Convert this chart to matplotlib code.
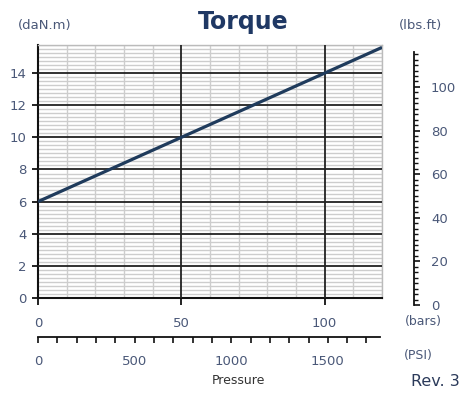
import matplotlib
matplotlib.use('Agg')
import matplotlib.pyplot as plt
from matplotlib.ticker import MultipleLocator, FixedLocator

# data
pressure_bar = [0, 50, 100, 120]
torque_danm = [6.0, 10.0, 14.0, 15.6]
bar_ticks = [0, 50, 100]
danm_ticks = [0, 2, 4, 6, 8, 10, 12, 14]
lbsft_ticks = [0, 20, 40, 60, 80, 100]
psi_ticks = [0, 500, 1000, 1500]

W, H = 468, 394
NAVY = '#1f3b5c'
LABEL = '#4a5878'

def fx(px):
    return px / W

def fy(py):
    return 1 - py / H

fig = plt.figure(figsize=(W / 100, H / 100), dpi=100)
fig.patch.set_facecolor('white')

# main torque plot
ax = fig.add_axes([fx(38), fy(298), fx(382) - fx(38), fy(45) - fy(298)])
ax.plot(pressure_bar, torque_danm, color=NAVY, lw=2.3, solid_capstyle='butt', zorder=5)
ax.set_xlim(0, 120)
ax.set_ylim(0, 15.75)
ax.xaxis.set_major_locator(FixedLocator(bar_ticks))
ax.xaxis.set_minor_locator(MultipleLocator(10))
ax.yaxis.set_major_locator(FixedLocator(danm_ticks))
ax.yaxis.set_minor_locator(MultipleLocator(0.25))
ax.grid(which='minor', color='#cdcdcd', lw=1.0, zorder=1)
for v in bar_ticks[1:]:
    ax.axvline(v, color='#222222', lw=1.3, zorder=3)
for v in danm_ticks[1:]:
    ax.axhline(v, color='#222222', lw=1.3, zorder=3)
ax.set_axisbelow(True)
for s in ['left', 'bottom']:
    ax.spines[s].set_color('#111111')
    ax.spines[s].set_linewidth(1.5)
for s in ['top', 'right']:
    ax.spines[s].set_color('#bbbbbb')
    ax.spines[s].set_linewidth(1.0)
ax.tick_params(which='minor', length=0)
ax.tick_params(axis='y', which='major', length=4, width=1.3, pad=4,
               labelsize=9.5, labelcolor=LABEL, color='#111111')
ax.tick_params(axis='x', which='major', length=5, width=1.3, pad=9,
               labelsize=9.5, labelcolor=LABEL, color='#111111')

# right lbs.ft scale
axr = fig.add_axes([fx(414), fy(305), 0.0005, fy(52) - fy(305)])
axr.set_ylim(0, 116)
axr.set_xticks([])
for s in ['left', 'top', 'bottom']:
    axr.spines[s].set_visible(False)
axr.spines['right'].set_color('#111111')
axr.spines['right'].set_linewidth(1.3)
axr.yaxis.tick_right()
axr.yaxis.set_major_locator(FixedLocator(lbsft_ticks))
axr.yaxis.set_minor_locator(MultipleLocator(2.5))
axr.tick_params(axis='y', which='major', length=4, width=1.2, pad=8,
                labelsize=9.5, labelcolor=LABEL, color='#111111')
axr.tick_params(axis='y', which='minor', length=3, width=1.0, color='#111111')
axr.set_facecolor('none')

# PSI scale
axp = fig.add_axes([fx(38), fy(337), fx(380) - fx(38), 0.0005])
axp.set_xlim(0, 1770)
axp.set_yticks([])
for s in ['left', 'top', 'right']:
    axp.spines[s].set_visible(False)
axp.spines['bottom'].set_color('#111111')
axp.spines['bottom'].set_linewidth(1.3)
axp.xaxis.set_major_locator(FixedLocator(psi_ticks))
axp.xaxis.set_minor_locator(MultipleLocator(100))
axp.tick_params(axis='x', which='both', length=4, width=1.2, color='#111111')
axp.tick_params(axis='x', which='major', pad=9, labelsize=9.5, labelcolor=LABEL)
axp.set_facecolor('none')

# texts
fig.text(fx(243), fy(22), 'Torque', ha='center', va='center', fontsize=17,
         fontweight='bold', color='#1f3864')
fig.text(fx(45), fy(25), '(daN.m)', ha='center', va='center', fontsize=9.5, color=LABEL)
fig.text(fx(421), fy(25), '(lbs.ft)', ha='center', va='center', fontsize=9.5, color=LABEL)
fig.text(fx(423), fy(322), '(bars)', ha='center', va='center', fontsize=9, color=LABEL)
fig.text(fx(418), fy(356), '(PSI)', ha='center', va='center', fontsize=9, color=LABEL)
fig.text(fx(238), fy(380), 'Pressure', ha='center', va='center', fontsize=9, color='#333333')
fig.text(fx(435), fy(381), 'Rev. 3', ha='center', va='center', fontsize=11.5, color='#2b3a5a')

fig.savefig('out.png', dpi=100, facecolor='white')
